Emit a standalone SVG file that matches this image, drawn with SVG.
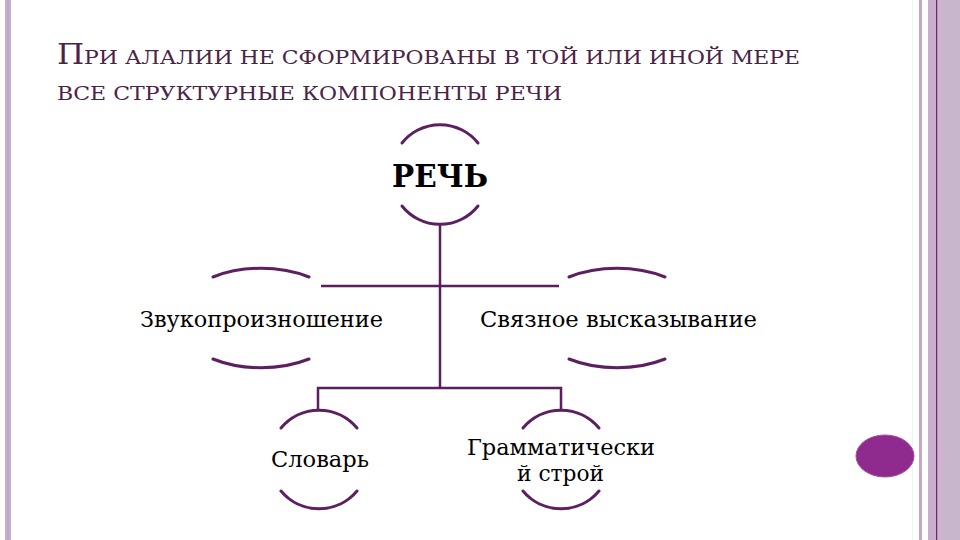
<svg xmlns="http://www.w3.org/2000/svg" width="960" height="540" viewBox="0 0 960 540">
  <style>
    .arc { fill: none; stroke: #5c2060; stroke-width: 3; stroke-linecap: round; }
    .conn { fill: none; stroke: #5a1f5c; stroke-width: 2.5; }
    .lbl { font-family: "DejaVu Serif", "Liberation Serif", serif; font-size: 22px; fill: #000; text-anchor: middle; }
    .title { font-family: "DejaVu Serif Condensed", "DejaVu Serif", "Liberation Serif", serif; fill: #4a2448; }
  </style>
  <rect x="0" y="0" width="960" height="540" fill="#ffffff"/>
  <g id="frame">
    <rect x="5" y="0" width="6" height="540" fill="#c6b0ca"/>
    <rect x="7.5" y="0" width="1" height="540" fill="#b79dc0"/>
    <rect x="912" y="0" width="1" height="540" fill="#eef4f8"/>
    <rect x="919" y="0" width="3" height="540" fill="#c4a8c4"/>
    <rect x="928" y="0" width="32" height="540" fill="#c8b6cc"/>
    <rect x="928" y="0" width="8" height="540" fill="#c9afcd"/>
    <rect x="936" y="0" width="1.5" height="540" fill="#6e2a5e"/>
    <rect x="937.5" y="0" width="5.5" height="540" fill="#d2b2d2"/>
  </g>
  <g id="title">
    <text class="title" x="57" y="64" font-size="19" textLength="743" lengthAdjust="spacingAndGlyphs"><tspan font-size="27">П</tspan>РИ АЛАЛИИ НЕ СФОРМИРОВАНЫ В ТОЙ ИЛИ ИНОЙ МЕРЕ</text>
    <text class="title" x="57" y="100" font-size="19" textLength="505" lengthAdjust="spacingAndGlyphs">ВСЕ СТРУКТУРНЫЕ КОМПОНЕНТЫ РЕЧИ</text>
  </g>
  <g id="connectors">
    <line class="conn" x1="440" y1="223" x2="440" y2="388"/>
    <line class="conn" x1="321" y1="286" x2="559" y2="286"/>
    <polyline class="conn" points="318,410 318,388 561,388 561,410"/>
  </g>
  <g id="node-rech">
    <path class="arc" d="M402,143 A48.5,48.5 0 0 1 478,143"/>
    <path class="arc" d="M402,206 A48.5,48.5 0 0 0 478,206"/>
    <text x="440" y="187" font-family="DejaVu Serif, Liberation Serif, serif" font-weight="bold" font-size="31" text-anchor="middle" textLength="96" lengthAdjust="spacingAndGlyphs" fill="#000">РЕЧЬ</text>
  </g>
  <g id="node-zvuk">
    <path class="arc" d="M213,277 A85,50 0 0 1 309,277"/>
    <path class="arc" d="M213,359 A85,50 0 0 0 309,359"/>
    <text class="lbl" x="261.5" y="327" textLength="243" lengthAdjust="spacingAndGlyphs">Звукопроизношение</text>
  </g>
  <g id="node-svyaz">
    <path class="arc" d="M569,277 A85,50 0 0 1 665,277"/>
    <path class="arc" d="M569,359 A85,50 0 0 0 665,359"/>
    <text class="lbl" x="618.5" y="327" textLength="277" lengthAdjust="spacingAndGlyphs">Связное высказывание</text>
  </g>
  <g id="node-slovar">
    <path class="arc" d="M281,428 A49.5,49.5 0 0 1 357,428"/>
    <path class="arc" d="M281,491 A49.5,49.5 0 0 0 357,491"/>
    <text class="lbl" x="320" y="467" textLength="98" lengthAdjust="spacingAndGlyphs">Словарь</text>
  </g>
  <g id="node-gramm">
    <path class="arc" d="M523,428 A49.5,49.5 0 0 1 599,428"/>
    <path class="arc" d="M523,491 A49.5,49.5 0 0 0 599,491"/>
    <text class="lbl" x="561" y="455" textLength="188" lengthAdjust="spacingAndGlyphs">Грамматически</text>
    <text class="lbl" x="560.5" y="481" textLength="87" lengthAdjust="spacingAndGlyphs">й строй</text>
  </g>
  <g id="dot">
    <ellipse cx="885" cy="456" rx="29" ry="21" fill="#8f2a8f" stroke="#a24ea2" stroke-width="1"/>
  </g>
</svg>
